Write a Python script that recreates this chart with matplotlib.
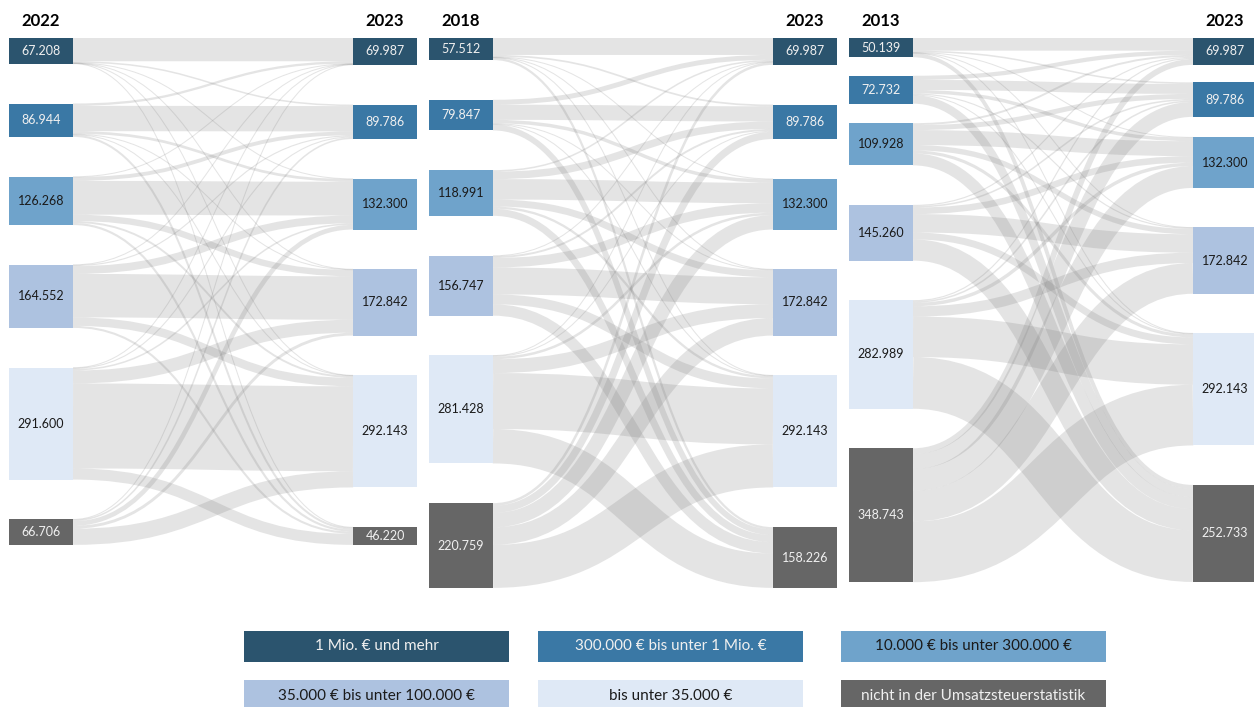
import matplotlib
matplotlib.use("Agg")
import matplotlib.pyplot as plt
from matplotlib.path import Path
from matplotlib.patches import PathPatch, Rectangle

plt.rcParams['font.family'] = ['Lato', 'DejaVu Sans']

# ---------------- data ----------------
classes = ["1 Mio. € und mehr", "300.000 € bis unter 1 Mio. €", "10.000 € bis unter 300.000 €",
           "35.000 € bis unter 100.000 €", "bis unter 35.000 €", "nicht in der Umsatzsteuerstatistik"]
class_colors = ["#2b546e", "#3a78a5", "#6fa3cb", "#adc2e0", "#dfe9f6", "#666666"]
text_colors = ["#f0f0f0", "#f0f0f0", "#1a1a1a", "#1a1a1a", "#1a1a1a", "#f0f0f0"]

years_left = ["2022", "2018", "2013"]
year_right = "2023"

values_2022 = [67.208, 86.944, 126.268, 164.552, 291.600, 66.706]
values_2018 = [57.512, 79.847, 118.991, 156.747, 281.428, 220.759]
values_2013 = [50.139, 72.732, 109.928, 145.260, 282.989, 348.743]
values_2023_vs2022 = [69.987, 89.786, 132.300, 172.842, 292.143, 46.220]
values_2023_vs2018 = [69.987, 89.786, 132.300, 172.842, 292.143, 158.226]
values_2023_vs2013 = [69.987, 89.786, 132.300, 172.842, 292.143, 252.733]

# flows (in thousand), rows = earlier year class, cols = 2023 class
flows_2022 = [
    [60.5, 4.0, 0.8, 0.4, 0.4, 1.108],
    [6.0, 66.0, 7.0, 1.5, 1.2, 5.244],
    [1.2, 10.0, 88.0, 16.5, 5.0, 5.568],
    [0.6, 3.0, 20.4, 113.152, 22.0, 5.4],
    [0.7, 2.8, 4.0, 33.8, 221.4, 28.9],
    [0.987, 3.986, 12.1, 7.49, 42.143, 0.0],
]
flows_2018 = [
    [44.1, 4.5, 1.5, 0.8, 0.8, 5.812],
    [12.8, 39.5, 9.0, 2.0, 1.5, 15.047],
    [4.0, 19.4, 53.3, 18.0, 6.0, 18.291],
    [1.5, 5.0, 24.7, 70.2, 25.7, 29.647],
    [1.0, 2.5, 6.5, 36.0, 145.999, 89.429],
    [6.587, 18.886, 37.3, 45.842, 112.144, 0.0],
]
flows_2013 = [
    [33.0, 4.0, 1.5, 0.8, 0.8, 10.039],
    [11.0, 26.0, 9.0, 3.0, 2.0, 21.732],
    [5.0, 13.0, 39.0, 14.0, 8.0, 30.928],
    [3.0, 4.0, 17.0, 48.0, 18.0, 55.26],
    [3.0, 4.0, 9.0, 27.0, 105.215, 134.774],
    [14.987, 38.786, 56.8, 80.042, 158.128, 0.0],
]

# ---------------- layout (pixels) ----------------
W, H, DPI = 1254, 707, 100
TOP = 38.0
SCALE = 0.3839          # px per thousand
NODE_W = 64
PANEL_X = [0, 420, 840]
LEFT_X, RIGHT_X = 9, 353
GAPS_LEFT = [[39.7] * 5, [39.7] * 5, [18.5, 19.5, 39.5, 39.5, 39.5]]
GAPS_RIGHT = [[39.7] * 5, [39.7] * 5, [17.5, 20.3, 39.5, 39.5, 39.5]]
LINK_COLOR = "#7a7a7a"
LINK_ALPHA = 0.2

fig = plt.figure(figsize=(W / DPI, H / DPI), dpi=DPI)
ax = fig.add_axes([0, 0, 1, 1])
ax.set_xlim(0, W)
ax.set_ylim(H, 0)
ax.axis('off')


def node_positions(vals, gaps):
    ys, y = [], TOP
    for k, v in enumerate(vals):
        ys.append(y)
        y += v * SCALE + (gaps[k] if k < len(gaps) else 0)
    return ys


def draw_panel(p, lvals, rvals, flows, ylab):
    px = PANEL_X[p]
    ly = node_positions(lvals, GAPS_LEFT[p])
    ry = node_positions(rvals, GAPS_RIGHT[p])
    xl0 = px + LEFT_X
    xl1 = xl0 + NODE_W
    xr0 = px + RIGHT_X
    xm = (xl1 + xr0) / 2
    out_off = list(ly)
    in_off = list(ry)
    for i in range(len(lvals)):
        for j in range(len(rvals)):
            f = flows[i][j]
            if f <= 0:
                continue
            w = f * SCALE
            y0 = out_off[i] + w / 2
            out_off[i] += w
            y1 = in_off[j] + w / 2
            in_off[j] += w
            path = Path([(xl1, y0), (xm, y0), (xm, y1), (xr0, y1)],
                        [Path.MOVETO, Path.CURVE4, Path.CURVE4, Path.CURVE4])
            ax.add_patch(PathPatch(path, fill=False, edgecolor=LINK_COLOR, alpha=LINK_ALPHA,
                                   lw=max(w, 1.0) * 72 / DPI, capstyle='butt', zorder=1))
    for k, v in enumerate(lvals):
        h = v * SCALE
        ax.add_patch(Rectangle((xl0, ly[k]), NODE_W, h, facecolor=class_colors[k], edgecolor='none', zorder=3))
        ax.text(xl0 + NODE_W / 2, ly[k] + h / 2, f"{v:.3f}", ha='center', va='center',
                fontsize=9, color=text_colors[k], zorder=4)
    for k, v in enumerate(rvals):
        h = v * SCALE
        ax.add_patch(Rectangle((xr0, ry[k]), NODE_W, h, facecolor=class_colors[k], edgecolor='none', zorder=3))
        ax.text(xr0 + NODE_W / 2, ry[k] + h / 2, f"{v:.3f}", ha='center', va='center',
                fontsize=9, color=text_colors[k], zorder=4)
    ax.text(xl0 + NODE_W / 2, 21, ylab, ha='center', va='center', fontsize=12,
            fontweight='bold', color='black')
    ax.text(xr0 + NODE_W / 2, 21, year_right, ha='center', va='center', fontsize=12,
            fontweight='bold', color='black')


draw_panel(0, values_2022, values_2023_vs2022, flows_2022, years_left[0])
draw_panel(1, values_2018, values_2023_vs2018, flows_2018, years_left[1])
draw_panel(2, values_2013, values_2023_vs2013, flows_2013, years_left[2])

# legend
LEG_X = [244, 538, 841]
LEG_Y = [631, 680]
LEG_W, LEG_H = 265, 31
for k, name in enumerate(classes):
    x = LEG_X[k % 3]
    y = LEG_Y[k // 3]
    ax.add_patch(Rectangle((x, y), LEG_W, LEG_H, facecolor=class_colors[k], edgecolor='none'))
    ax.text(x + LEG_W / 2, y + 15.5, name, ha='center', va='center', fontsize=11,
            color=text_colors[k])

fig.savefig("out.png", dpi=DPI)
